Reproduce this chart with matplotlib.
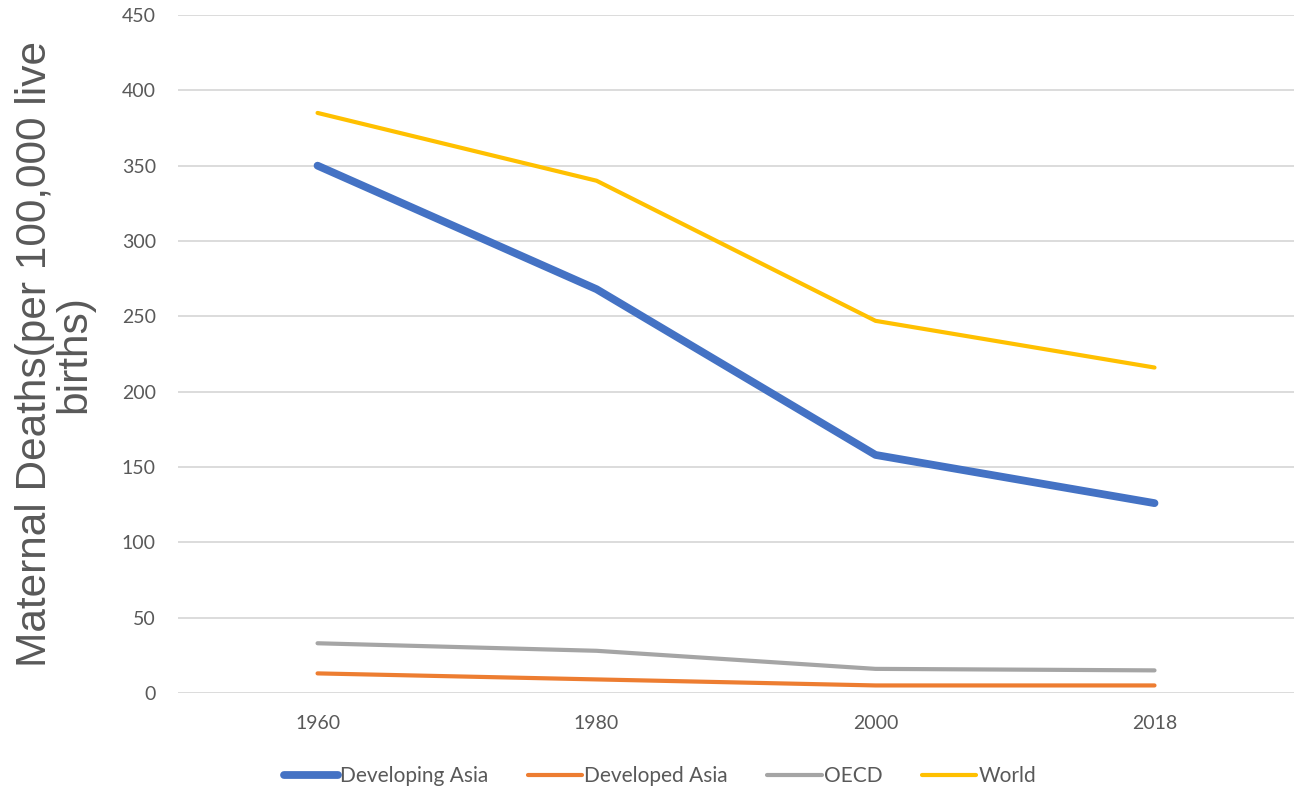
import matplotlib
matplotlib.use("Agg")
import matplotlib.pyplot as plt
import numpy as np

# ---------- data ----------
years = ["1960", "1980", "2000", "2018"]
developing_asia = [350, 268, 158, 126]
developed_asia = [13, 9, 5, 5]
oecd = [33, 28, 16, 15]
world = [385, 340, 247, 216]

series = [
    ("Developing Asia", developing_asia, "#4472C4", 5.6),
    ("Developed Asia", developed_asia, "#ED7D31", 3.0),
    ("OECD", oecd, "#A5A5A5", 3.0),
    ("World", world, "#FFC000", 3.0),
]

txt = "#595959"
fig = plt.figure(figsize=(12.94, 7.89), dpi=100)
ax = fig.add_axes([0.1376, 0.1217, 0.8624, 0.8593])

x = np.arange(len(years))
for name, vals, col, lw in series:
    ax.plot(x, vals, color=col, lw=lw, solid_capstyle="round", label=name)

ax.set_xlim(-0.5, len(years) - 0.5)
ax.set_ylim(0, 450)
ax.set_yticks(np.arange(0, 451, 50))
ax.set_xticks(x)
ax.set_xticklabels(years)
ax.grid(axis="y", color="#D9D9D9", lw=1.3)
ax.set_axisbelow(True)
for s in ax.spines.values():
    s.set_visible(False)
ax.tick_params(length=0, labelsize=14, labelcolor=txt)
ax.tick_params(axis="y", pad=16)
ax.tick_params(axis="x", pad=16)
for lab in ax.get_xticklabels() + ax.get_yticklabels():
    lab.set_family("Lato")

ax.set_ylabel("Maternal Deaths(per 100,000 live\nbirths)", fontsize=30.5,
              color=txt, family="Liberation Sans", labelpad=20, linespacing=0.95)

leg = fig.legend(loc="lower center", bbox_to_anchor=(0.51, -0.02), ncol=4,
                 frameon=False, handlelength=2.6, handletextpad=0.1,
                 columnspacing=1.9, prop={"family": "Lato", "size": 15})
for t in leg.get_texts():
    t.set_color(txt)

fig.savefig("out.png", dpi=100)
